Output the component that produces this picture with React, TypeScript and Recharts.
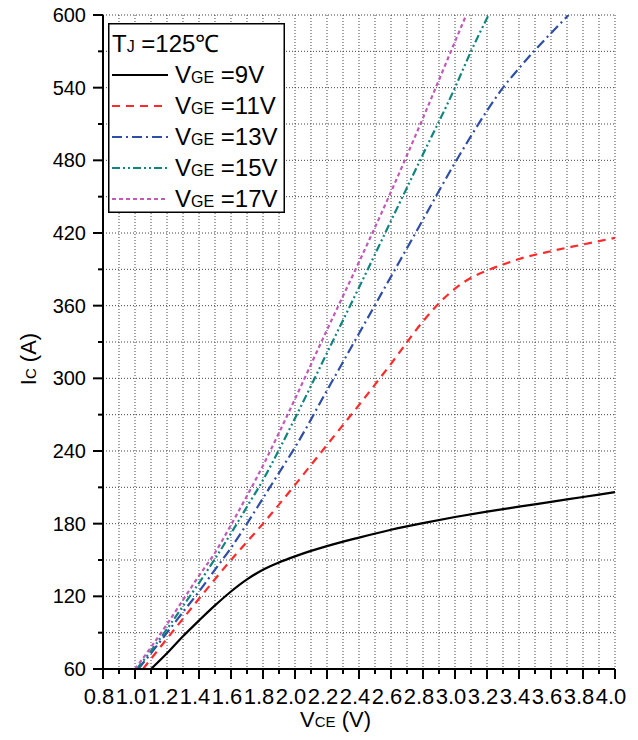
import React from 'react';
import { LineChart, Line, XAxis, YAxis, CartesianGrid, Legend } from 'recharts';

const FONT = '"Liberation Sans", Arial, sans-serif';

// ---- axis ticks ----
const X_TICKS = [0.8, 0.9, 1.0, 1.1, 1.2, 1.3, 1.4, 1.5, 1.6, 1.7, 1.8, 1.9, 2.0, 2.1, 2.2, 2.3, 2.4, 2.5, 2.6, 2.7, 2.8, 2.9, 3.0, 3.1, 3.2, 3.3, 3.4, 3.5, 3.6, 3.7, 3.8, 3.9, 4.0];
const Y_TICKS = [60, 90, 120, 150, 180, 210, 240, 270, 300, 330, 360, 390, 420, 450, 480, 510, 540, 570, 600];

// ---- series: VCE (V) and IC (A) ----
const VGE9_VCE = [1.1, 1.2, 1.3, 1.4, 1.5, 1.6, 1.7, 1.8, 1.9, 2.0, 2.1, 2.2, 2.4, 2.6, 2.8, 3.0, 3.2, 3.4, 3.6, 3.8, 4.0];
const VGE9_IC = [60, 73, 87, 100, 112.5, 124, 134, 142, 148, 153, 157.5, 161.5, 168.5, 175, 180.5, 185.5, 190, 194, 198, 202, 206];

const VGE11_VCE = [1.05, 1.2, 1.4, 1.6, 1.8, 2.0, 2.2, 2.4, 2.6, 2.8, 2.9, 3.0, 3.1, 3.2, 3.3, 3.4, 3.6, 3.8, 4.0];
const VGE11_IC = [60, 85, 118, 150, 180, 212, 245, 278, 312, 347, 362, 374, 383, 389, 394, 398.5, 405, 410.5, 416];

const VGE13_VCE = [1.02, 1.1, 1.2, 1.3, 1.4, 1.5, 1.6, 1.7, 1.8, 1.9, 2.0, 2.2, 2.4, 2.6, 2.8, 3.0, 3.1, 3.2, 3.3, 3.4, 3.5, 3.6, 3.71];
const VGE13_IC = [60, 73, 90, 107, 124, 142, 160, 180, 201, 222, 243, 290, 337, 384, 431, 478, 500, 521, 540, 556, 571, 585, 600];

const VGE15_VCE = [1.01, 1.1, 1.2, 1.3, 1.4, 1.5, 1.6, 1.7, 1.8, 1.9, 2.0, 2.2, 2.4, 2.6, 2.8, 3.0, 3.1, 3.21];
const VGE15_IC = [60, 75, 93, 112, 131, 151, 172, 194, 216, 241, 267, 321, 375, 430, 485, 540, 570, 600];

const VGE17_VCE = [1.0, 1.1, 1.2, 1.3, 1.4, 1.5, 1.6, 1.7, 1.8, 1.9, 2.0, 2.2, 2.4, 2.6, 2.8, 3.0, 3.07];
const VGE17_IC = [60, 78, 97, 117, 137, 156, 179, 203, 228, 255, 283, 340, 396, 454, 515, 578, 600];

const GATE_LABELS = ['9V', '11V', '13V', '15V', '17V'];

const toPoints = (vs: number[], is: number[]) => vs.map((v, k) => ({ v, i: is[k] }));

const SERIES = [
  { key: 'g9', label: GATE_LABELS[0], data: toPoints(VGE9_VCE, VGE9_IC), color: '#000000', dash: undefined as string | undefined },
  { key: 'g11', label: GATE_LABELS[1], data: toPoints(VGE11_VCE, VGE11_IC), color: '#ff2a2a', dash: '8 6' },
  { key: 'g13', label: GATE_LABELS[2], data: toPoints(VGE13_VCE, VGE13_IC), color: '#2f4ea8', dash: '10 4 2 4' },
  { key: 'g15', label: GATE_LABELS[3], data: toPoints(VGE15_VCE, VGE15_IC), color: '#10857f', dash: '8 3 2 3 2 3' },
  { key: 'g17', label: GATE_LABELS[4], data: toPoints(VGE17_VCE, VGE17_IC), color: '#c25ab8', dash: '4 3' },
];

const XTick = (props: any) => {
  const { x, y, payload } = props;
  const v = Number(payload.value);
  const major = Math.round(v * 10) % 2 === 0;
  return (
    <g>
      <line x1={x} x2={x} y1={y} y2={y + (major ? 10 : 5)} stroke="#000" strokeWidth={2} />
      {major && (
        <text x={x - 4} y={y + 35} textAnchor="middle" fontSize={22} fill="#000" fontFamily={FONT}>
          {v.toFixed(1)}
        </text>
      )}
    </g>
  );
};

const YTick = (props: any) => {
  const { x, y, payload } = props;
  const v = Number(payload.value);
  const major = Math.round(v) % 60 === 0;
  return (
    <g>
      <line x1={x - (major ? 10 : 5)} x2={x} y1={y} y2={y} stroke="#000" strokeWidth={2} />
      {major && (
        <text x={x - 17} y={y + 7} textAnchor="end" fontSize={20} fill="#000" fontFamily={FONT}>
          {v}
        </text>
      )}
    </g>
  );
};

const LegendBox = () => (
  <svg width={178} height={191} style={{ display: 'block' }}>
    <rect x={0.75} y={0.75} width={175.5} height={188.5} fill="#fff" stroke="#000" strokeWidth={1.5} />
    <text x={4} y={29} fontFamily={FONT} fill="#000">
      <tspan fontSize={24}>T</tspan>
      <tspan fontSize={16}>J</tspan>
      <tspan fontSize={24}> =125℃</tspan>
    </text>
    {SERIES.map((s, k) => {
      const base = 60 + 31 * k;
      return (
        <g key={s.key}>
          <line x1={4} x2={60} y1={base - 8} y2={base - 8} stroke={s.color} strokeWidth={2} strokeDasharray={s.dash} />
          <text x={67} y={base} fontFamily={FONT} fill="#000">
            <tspan fontSize={24}>V</tspan>
            <tspan fontSize={16}>GE</tspan>
            <tspan fontSize={24}> ={s.label}</tspan>
          </text>
        </g>
      );
    })}
  </svg>
);

export default function App() {
  return (
    <div style={{ position: 'relative', width: 622, height: 724 }}>
      <span
        style={{ position: 'absolute', left: -17, top: 667, fontSize: 22, fontFamily: FONT, color: '#000', lineHeight: '25px' }}
      >
        4
      </span>
      <LineChart width={622} height={724} margin={{ top: 7, right: 15, bottom: 0, left: 0 }}>
        <CartesianGrid stroke="#444" strokeDasharray="1 2" strokeWidth={1} />
        <XAxis
          type="number"
          dataKey="v"
          domain={[0.8, 4.0]}
          ticks={X_TICKS}
          interval={0}
          height={63}
          tickSize={0}
          tickMargin={0}
          tickLine={false}
          axisLine={{ stroke: '#000', strokeWidth: 2 }}
          tick={<XTick />}
          allowDataOverflow
          label={{
            content: () => (
              <text x={292} y={719} fontFamily={FONT} fill="#000">
                <tspan fontSize={22}>V</tspan>
                <tspan fontSize={15}>CE</tspan>
                <tspan fontSize={22}> (V)</tspan>
              </text>
            ),
          }}
        />
        <XAxis
          xAxisId="top"
          orientation="top"
          type="number"
          domain={[0.8, 4.0]}
          height={0}
          tick={false}
          tickLine={false}
          axisLine={{ stroke: '#000', strokeWidth: 2 }}
        />
        <YAxis
          type="number"
          domain={[60, 600]}
          ticks={Y_TICKS}
          interval={0}
          width={95}
          tickSize={0}
          tickMargin={0}
          tickLine={false}
          axisLine={{ stroke: '#000', strokeWidth: 2 }}
          tick={<YTick />}
          allowDataOverflow
          label={{
            content: () => (
              <text x={28} y={351} transform="rotate(-90, 28, 351)" textAnchor="middle" fontFamily={FONT} fill="#000">
                <tspan fontSize={22}>I</tspan>
                <tspan fontSize={15}>C</tspan>
                <tspan fontSize={22}> (A)</tspan>
              </text>
            ),
          }}
        />
        <YAxis
          yAxisId="right"
          orientation="right"
          type="number"
          domain={[60, 600]}
          width={0}
          tick={false}
          tickLine={false}
          axisLine={{ stroke: '#000', strokeWidth: 2 }}
        />
        <Legend
          layout="vertical"
          align="center"
          verticalAlign="middle"
          wrapperStyle={{ position: 'absolute', left: 100, top: 15, width: 178, height: 191, margin: 0, padding: 0 }}
          content={() => <LegendBox />}
        />
        {SERIES.map((s) => (
          <Line
            key={s.key}
            data={s.data}
            dataKey="i"
            name={s.label}
            type="monotone"
            stroke={s.color}
            strokeWidth={2.2}
            strokeDasharray={s.dash}
            dot={false}
            activeDot={false}
            isAnimationActive={false}
          />
        ))}
      </LineChart>
    </div>
  );
}
